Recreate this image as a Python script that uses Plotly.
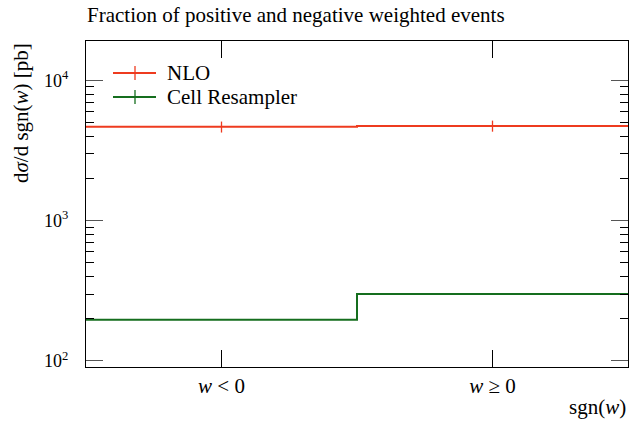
import plotly.graph_objects as go

# ---- data ----
bin_edges = [-1.0, 0.0, 1.0]
bin_labels = ["<i>w</i> &lt; 0", "<i>w</i> ≥ 0"]
nlo_values = [4670, 4740]
nlo_errors = [420, 430]
cell_values = [197, 300]
series_names = ["NLO", "Cell Resampler"]
ytick_vals = [100, 1000, 10000]
ytick_text = ["10<sup>2</sup>", "10<sup>3</sup>", "10<sup>4</sup>"]

RED = "#EE3B1F"
GREEN = "#156E1E"
FONT = "Liberation Serif"
FS = 21

centers = [(bin_edges[i] + bin_edges[i + 1]) / 2 for i in range(len(bin_edges) - 1)]

fig = go.Figure()

def step_trace(vals, color, name):
    return go.Scatter(
        x=bin_edges, y=list(vals) + [vals[-1]], mode="lines",
        line=dict(color=color, width=2, shape="hv"), name=name,
        showlegend=False, hoverinfo="skip")

fig.add_trace(step_trace(nlo_values, RED, series_names[0]))
fig.add_trace(go.Scatter(
    x=centers, y=nlo_values, mode="markers", marker=dict(size=1, color=RED, opacity=0),
    error_y=dict(type="data", array=nlo_errors, color=RED, thickness=1.3, width=0),
    showlegend=False, hoverinfo="skip"))
fig.add_trace(step_trace(cell_values, GREEN, series_names[1]))

# manual legend
legend_rows = [(series_names[0], RED, 73), (series_names[1], GREEN, 97)]
W, H = 629, 423
L, R, T, B = 86, 1, 41, 56
pw, ph = W - L - R, H - T - B

def px_x(x):
    return (x - L) / pw

def px_y(y):
    return 1 - (y - T) / ph

for name, color, yy in legend_rows:
    fig.add_shape(type="line", xref="paper", yref="paper",
                  x0=px_x(113), x1=px_x(156), y0=px_y(yy), y1=px_y(yy),
                  line=dict(color=color, width=2))
    fig.add_shape(type="line", xref="paper", yref="paper",
                  x0=px_x(135), x1=px_x(135), y0=px_y(yy - 7), y1=px_y(yy + 7),
                  line=dict(color=color, width=1.3))
    fig.add_annotation(text=name, xref="paper", yref="paper", x=px_x(165), y=px_y(yy),
                       xanchor="left", yanchor="middle", showarrow=False,
                       font=dict(family=FONT, size=FS, color="black"))

# title
fig.add_annotation(text="Fraction of positive and negative weighted events",
                   xref="paper", yref="paper", x=px_x(85), y=px_y(29), xanchor="left", yanchor="bottom",
                   showarrow=False, font=dict(family=FONT, size=FS, color="black"))
# y title
fig.add_annotation(text="d<i>σ</i>/d sgn(<i>w</i>) [pb]", textangle=-90,
                   xref="paper", yref="paper", x=px_x(21), y=px_y(41),
                   xanchor="center", yanchor="top", showarrow=False,
                   font=dict(family=FONT, size=FS, color="black"))
# x title
fig.add_annotation(text="sgn(<i>w</i>)", xref="paper", yref="paper", x=1, y=px_y(393),
                   xanchor="right", yanchor="top", showarrow=False,
                   font=dict(family=FONT, size=FS, color="black"))

fig.update_layout(
    width=W, height=H, margin=dict(l=L, r=R, t=T, b=B),
    plot_bgcolor="white", paper_bgcolor="white", showlegend=False,
    font=dict(family=FONT, size=FS, color="black"),
)
fig.update_xaxes(
    range=[bin_edges[0], bin_edges[-1]], tickvals=centers, ticktext=bin_labels,
    ticks="inside", ticklen=17, tickwidth=1, tickcolor="black",
    showline=True, linecolor="black", linewidth=1.2, mirror="allticks",
    showgrid=False, zeroline=False, tickfont=dict(family=FONT, size=FS),
    ticklabelstandoff=0)
fig.update_yaxes(
    type="log", range=[1.957, 4.281], tickvals=ytick_vals, ticktext=ytick_text,
    ticks="inside", ticklen=17, tickwidth=1.3, tickcolor="#555",
    minor=dict(ticks="inside", ticklen=8, tickwidth=1, tickcolor="black",
               tickvals=[v * k for v in [10, 100, 1000, 10000] for k in range(2, 10)],
               showgrid=False),
    showline=True, linecolor="black", linewidth=1.2, mirror="allticks",
    showgrid=False, zeroline=False, tickfont=dict(family=FONT, size=18),
    ticklabelstandoff=13)

fig.write_html("out.html", config={"displayModeBar": False},
               post_script="document.body.style.margin='0';")
